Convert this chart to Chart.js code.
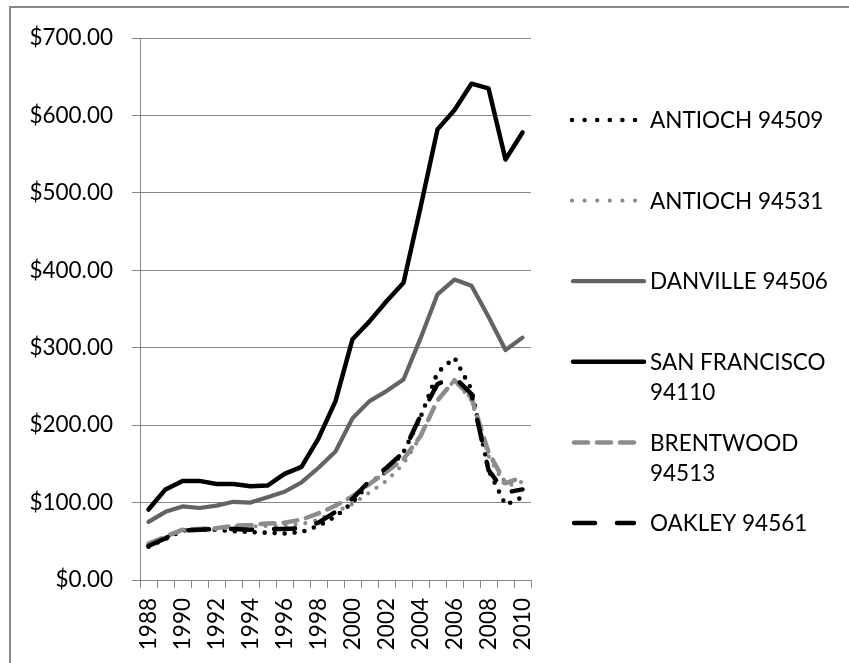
<!DOCTYPE html>
<html><head><meta charset="utf-8">
<script src="https://cdn.jsdelivr.net/npm/chart.js@4"></script>
<style>html,body{margin:0;padding:0;background:#fff;}#wrap{width:849px;height:663px;}</style>
</head><body><div id="wrap"><canvas id="c" width="849" height="663"></canvas></div>
<script>
const years = ['1988','1989','1990','1991','1992','1993','1994','1995','1996','1997','1998','1999','2000','2001','2002','2003','2004','2005','2006','2007','2008','2009','2010'];
const antioch94509  = [43, 53, 64, 65, 65, 63, 62, 61, 60, 62, 70, 82, 100, 125, 140, 165, 210, 268, 287, 246, 142, 97, 107];
const antioch94531  = [46, 55, 64, 65, 66, 68, 69, 70, 70, 72, 78, 88, 98, 113, 128, 150, 185, 232, 258, 232, 160, 121, 127];
const danville94506 = [75, 88, 95, 93, 96, 101, 100, 107, 114, 126, 145, 166, 209, 231, 244, 259, 312, 369, 388, 380, 340, 297, 313];
const sanFran94110  = [91, 117, 128, 128, 124, 124, 121, 122, 137, 146, 183, 231, 311, 334, 360, 384, 481, 582, 607, 641, 635, 543, 578];
const brentwood94513= [47, 56, 65, 66, 67, 70, 71, 73, 74, 78, 86, 96, 108, 124, 140, 156, 186, 232, 258, 235, 165, 125, 133];
const oakley94561   = [44, 54, 64, 65, 66, 66, 65, 66, 66, 67, 74, 88, 105, 128, 145, 165, 212, 253, 262, 240, 142, 113, 117];
const seriesNames = [['ANTIOCH 94509'],['ANTIOCH 94531'],['DANVILLE 94506'],['SAN FRANCISCO','94110'],['BRENTWOOD','94513'],['OAKLEY 94561']];
const yTicks = [0,100,200,300,400,500,600,700];

const FONT = 'Lato';
const FSIZE = 22.5;
const GRID = '#868686';

const frame = {
  id:'frame',
  beforeDraw(chart){
    const c = chart.ctx; c.save();
    c.fillStyle='#fff'; c.fillRect(0,0,chart.width,chart.height);
    c.strokeStyle='#8a8a8a'; c.lineWidth=2;
    c.beginPath(); c.moveTo(10,663); c.lineTo(10,7); c.lineTo(849,7); c.stroke();
    c.restore();
  }
};

const sideLegend = {
  id:'sideLegend',
  afterDraw(chart){
    const c = chart.ctx;
    const y0 = 120, step = 80.6;
    chart.data.datasets.forEach((ds,i)=>{
      const y = y0 + i*step;
      c.save();
      c.strokeStyle = ds.borderColor; c.lineWidth = ds.borderWidth;
      c.lineCap = ds.borderCapStyle || 'butt';
      c.setLineDash(ds.legendDash);
      c.beginPath(); c.moveTo(ds.legendX0, y); c.lineTo(ds.legendX1, y); c.stroke();
      c.restore();
      c.save();
      c.fillStyle='#000'; c.font = FSIZE+'px '+FONT; c.textBaseline='middle'; c.textAlign='left';
      seriesNames[i].forEach((t,k)=> c.fillText(t, 650, y + 1 + k*30));
      c.restore();
    });
  }
};

const mk = (idx, data, color, width, dash, cap, lDash, lx0, lx1) => ({
  label: seriesNames[idx].join(' '), data, borderColor: color, borderWidth: width,
  borderDash: dash, borderCapStyle: cap, borderJoinStyle:'round', fill:false,
  pointRadius:0, tension:0, order: 10 - idx,
  legendDash: lDash, legendX0: lx0, legendX1: lx1
});

new Chart(document.getElementById('c'), {
  type:'line',
  data:{ labels: years, datasets:[
    mk(0, antioch94509, '#000000', 4.6, [0,10], 'round', [0,12.6], 572, 636),
    mk(1, antioch94531, '#8c8c8c', 4.2, [0,10], 'round', [0,12.6], 572, 636),
    mk(2, danville94506, '#636363', 4.2, [], 'round', [], 573, 644),
    mk(3, sanFran94110, '#000000', 4.5, [], 'round', [], 573, 644),
    mk(4, brentwood94513, '#8c8c8c', 4.5, [14,9], 'round', [14,9], 574, 634),
    mk(5, oakley94561, '#000000', 4.5, [21,22], 'round', [21,22], 574, 634)
  ]},
  options:{
    responsive:false, animation:false, devicePixelRatio:1,
    layout:{padding:{left:28, top:38, right:318, bottom:0}},
    plugins:{legend:{display:false}, tooltip:{enabled:false}},
    scales:{
      x:{
        offset:true,
        grid:{offset:true, drawOnChartArea:false, drawTicks:true, tickLength:8, color:GRID, lineWidth:1},
        border:{display:true, color:GRID, width:1},
        ticks:{autoSkip:false, maxRotation:90, minRotation:90, padding:10, color:'#000',
          font:{family:FONT, size:FSIZE}, callback:(v,i)=> i%2===0 ? years[i] : ''},
        afterFit(s){ s.height = 83; }
      },
      y:{
        min:0, max:700,
        afterBuildTicks(s){ s.ticks = yTicks.map(v=>({value:v})); },
        grid:{color:GRID, lineWidth:1, tickLength:8, drawTicks:true},
        border:{display:true, color:GRID, width:1},
        ticks:{padding:19, color:'#000', font:{family:FONT, size:FSIZE}, callback:v=>'$'+Number(v).toFixed(2)},
        afterFit(s){ s.width = 112; }
      }
    }
  },
  plugins:[frame, sideLegend]
});
</script></body></html>
